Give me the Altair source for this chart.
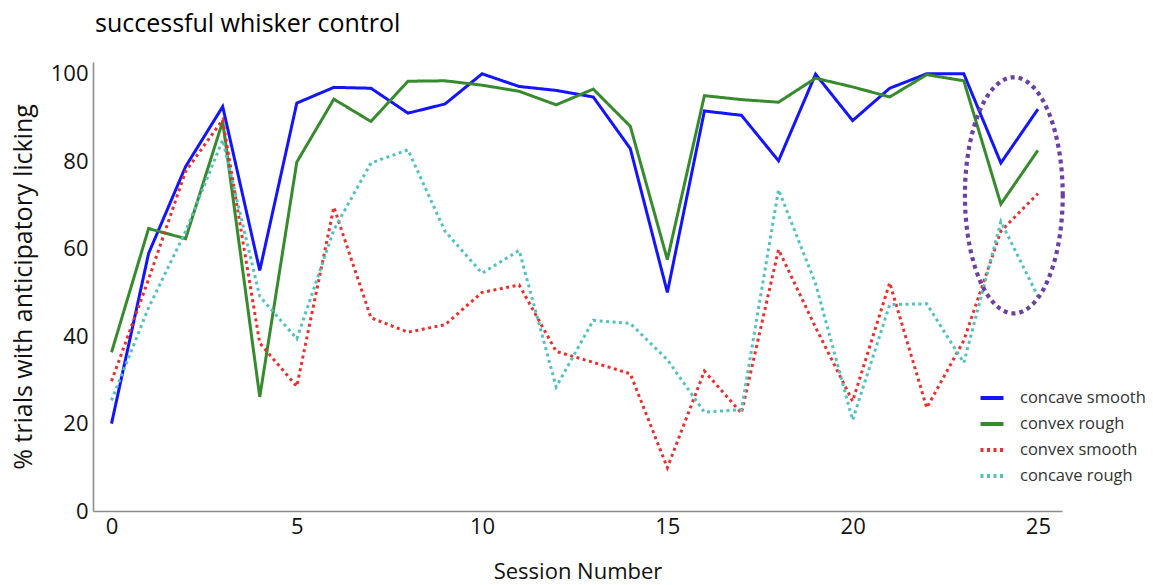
import altair as alt
import numpy as np
import pandas as pd

# Per-session percentage of trials with anticipatory licking
sessions = list(range(26))

concave_smooth = [20.0, 58.9, 78.8, 92.5, 55.0, 93.3, 96.9, 96.7, 91.0, 93.1,
                  100.0, 97.1, 96.2, 94.7, 82.9, 50.0, 91.5, 90.5, 80.1, 99.9,
                  89.3, 96.7, 100.0, 100.0, 79.6, 91.9]
convex_rough = [36.3, 64.6, 62.3, 89.1, 26.1, 79.8, 94.2, 89.1, 98.3, 98.4,
                97.4, 96.0, 92.9, 96.5, 88.0, 57.5, 95.0, 94.1, 93.5, 99.0,
                97.0, 94.7, 99.8, 98.4, 70.2, 82.5]
convex_smooth = [29.7, 53.0, 77.7, 89.5, 38.4, 28.5, 69.5, 44.2, 40.9, 42.6,
                 50.0, 51.7, 36.5, 34.0, 31.4, 9.9, 32.0, 22.4, 59.8, 42.0,
                 25.1, 52.2, 23.6, 39.0, 64.0, 72.6]
concave_rough = [25.3, 46.5, 64.0, 84.9, 49.1, 39.4, 64.3, 79.6, 82.6, 64.0,
                 54.4, 59.6, 28.4, 43.6, 42.9, 34.6, 22.6, 23.2, 73.5, 52.0,
                 20.8, 47.2, 47.4, 33.9, 66.2, 49.1]

series_names = ["concave smooth", "convex rough", "convex smooth", "concave rough"]
series_values = [concave_smooth, convex_rough, convex_smooth, concave_rough]
series_colors = ["#1414ff", "#388a2e", "#e8302f", "#55c0c0"]
series_dashes = [[1, 0], [1, 0], [3, 3.5], [3, 3.5]]

# Highlight ellipse around the last sessions (centre and radii in data units)
ellipse_center = (24.35, 72.2)
ellipse_radii = (1.32, 27.0)

rows = []
for name, vals in zip(series_names, series_values):
    for s, v in zip(sessions, vals):
        rows.append({"session": s, "pct": v, "series": name})
df = pd.DataFrame(rows)

t = np.linspace(0, 2 * np.pi, 160)
ell = pd.DataFrame({
    "session": ellipse_center[0] + ellipse_radii[0] * np.cos(t),
    "pct": ellipse_center[1] + ellipse_radii[1] * np.sin(t),
    "k": np.arange(len(t)),
})

FONT = "Open Sans"

x_scale = alt.Scale(domain=[-0.5, 25.65], nice=False, zero=False)
y_scale = alt.Scale(domain=[0, 102.7], nice=False)

lines = alt.Chart(df).mark_line(strokeWidth=3, clip=False).encode(
    x=alt.X("session:Q", scale=x_scale,
            axis=alt.Axis(values=[0, 5, 10, 15, 20, 25], title="Session Number",
                          grid=False, ticks=False, labelPadding=5,
                          titlePadding=24, labelFontSize=22, titleFontSize=22)),
    y=alt.Y("pct:Q", scale=y_scale,
            axis=alt.Axis(values=[0, 20, 40, 60, 80, 100],
                          title="% trials with anticipatory licking",
                          grid=False, ticks=False, labelPadding=5,
                          titlePadding=14, labelFontSize=22, titleFontSize=25)),
    color=alt.Color("series:N",
                    scale=alt.Scale(domain=series_names, range=series_colors),
                    legend=alt.Legend(title=None, orient="none", legendX=885,
                                      legendY=322, symbolType="stroke",
                                      symbolSize=530, symbolStrokeWidth=4,
                                      labelFontSize=16.5, labelFont=FONT,
                                      labelColor="#333333", rowPadding=3,
                                      labelOffset=14)),
    strokeDash=alt.StrokeDash("series:N",
                              scale=alt.Scale(domain=series_names, range=series_dashes),
                              legend=None),
    order="session:Q",
    detail="series:N",
)

ellipse = alt.Chart(ell).mark_line(
    color="#6a40a0", strokeWidth=4.2, strokeDash=[4, 4], clip=False
).encode(
    x=alt.X("session:Q", scale=x_scale),
    y=alt.Y("pct:Q", scale=y_scale),
    order="k:Q",
)

chart = alt.layer(lines, ellipse).properties(
    width=969,
    height=449,
    padding={"left": 93, "top": 62, "right": 91, "bottom": 74},
    autosize=alt.AutoSizeParams(type="none"),
    title=alt.TitleParams("successful whisker control", anchor="start",
                          frame="group", font=FONT, fontSize=25,
                          fontWeight="normal", color="black", offset=25, dx=2),
).configure_view(stroke=None).configure_axis(
    domainColor="#8c8c8c", domainWidth=1.6, labelFont=FONT, titleFont=FONT,
    labelColor="#111111", titleColor="#111111", titleFontWeight="normal",
)

chart.save("out.html", embed_options={"renderer": "svg", "actions": False})
